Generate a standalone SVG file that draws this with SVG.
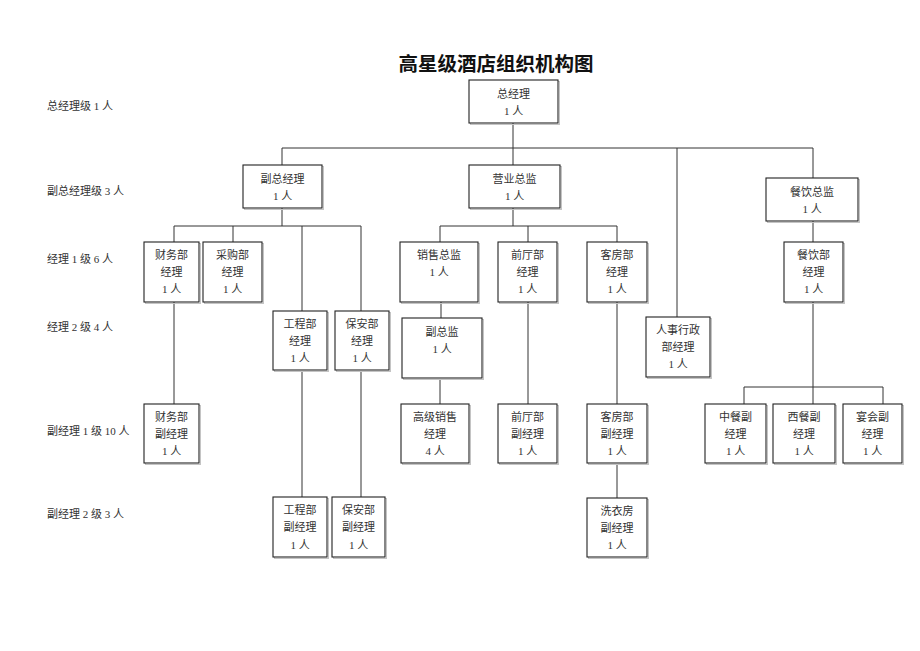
<svg xmlns="http://www.w3.org/2000/svg" width="920" height="651" viewBox="0 0 920 651">
<style>
  .bg { fill: #ffffff; }
  .title { font-family: "Noto Sans CJK SC", "Liberation Sans", sans-serif; font-size: 19.5px; font-weight: bold; fill: #111; text-anchor: middle; }
  .lvl { font-family: "Liberation Serif", "Noto Sans CJK SC", serif; font-size: 11px; fill: #333; }
  .node rect.box { fill: #ffffff; stroke: #222; stroke-width: 1.1; }
  .node rect.sh { fill: none; stroke: #c4c4c4; stroke-width: 1; }
  .node text { font-family: "Liberation Serif", "Noto Sans CJK SC", serif; font-size: 11px; fill: #333; text-anchor: middle; }
  .conn path { fill: none; stroke: #333; stroke-width: 1; }
</style>
<rect class="bg" x="0" y="0" width="920" height="651"/>
<text class="title" x="496" y="71">高星级酒店组织机构图</text>

<g id="levels">
  <text class="lvl" x="47" y="110">总经理级 1 人</text>
  <text class="lvl" x="47" y="195">副总经理级 3 人</text>
  <text class="lvl" x="47" y="263">经理 1 级 6 人</text>
  <text class="lvl" x="47" y="331">经理 2 级 4 人</text>
  <text class="lvl" x="47" y="435">副经理 1 级 10 人</text>
  <text class="lvl" x="47" y="518">副经理 2 级 3 人</text>
</g>

<g id="connectors" class="conn">
  <path d="M513 123 V165"/>
  <path d="M282 148 H813"/>
  <path d="M282 148 V165"/>
  <path d="M677 148 V317"/>
  <path d="M813 148 V178"/>
  <path d="M282 208 V226"/>
  <path d="M174 226 H361"/>
  <path d="M174 226 V242"/>
  <path d="M233 226 V242"/>
  <path d="M302 226 V311"/>
  <path d="M361 226 V311"/>
  <path d="M174 302 V404"/>
  <path d="M302 371 V497"/>
  <path d="M361 371 V497"/>
  <path d="M513 208 V226"/>
  <path d="M440 226 H617"/>
  <path d="M440 226 V242"/>
  <path d="M528 226 V242"/>
  <path d="M617 226 V242"/>
  <path d="M441 302 V318"/>
  <path d="M440 379 V404"/>
  <path d="M528 302 V404"/>
  <path d="M617 302 V404"/>
  <path d="M617 464 V498"/>
  <path d="M813 221 V242"/>
  <path d="M813 302 V387"/>
  <path d="M744 387 H883"/>
  <path d="M744 387 V404"/>
  <path d="M813 387 V404"/>
  <path d="M883 387 V404"/>
</g>

<g id="n-gm" class="node">
  <rect class="sh" x="470.5" y="81.5" width="89" height="43"/>
  <rect class="box" x="469" y="80" width="89" height="43"/>
  <text x="513.5" y="98">总经理</text><text x="513.5" y="115">1 人</text>
</g>
<g id="n-vgm" class="node">
  <rect class="sh" x="244.5" y="166.5" width="79" height="43"/>
  <rect class="box" x="243" y="165" width="79" height="43"/>
  <text x="282.5" y="183">副总经理</text><text x="282.5" y="200">1 人</text>
</g>
<g id="n-bizdir" class="node">
  <rect class="sh" x="470.5" y="166.5" width="91" height="43"/>
  <rect class="box" x="469" y="165" width="91" height="43"/>
  <text x="514.5" y="183">营业总监</text><text x="514.5" y="200">1 人</text>
</g>
<g id="n-fbdir" class="node">
  <rect class="sh" x="767.5" y="179.5" width="92" height="43"/>
  <rect class="box" x="766" y="178" width="92" height="43"/>
  <text x="812" y="196">餐饮总监</text><text x="812" y="213">1 人</text>
</g>

<g id="n-fin" class="node">
  <rect class="sh" x="145.5" y="243.5" width="55" height="60"/>
  <rect class="box" x="144" y="242" width="55" height="60"/>
  <text x="171.5" y="259">财务部</text><text x="171.5" y="276">经理</text><text x="171.5" y="293">1 人</text>
</g>
<g id="n-pur" class="node">
  <rect class="sh" x="204.5" y="243.5" width="59" height="60"/>
  <rect class="box" x="203" y="242" width="59" height="60"/>
  <text x="232.5" y="259">采购部</text><text x="232.5" y="276">经理</text><text x="232.5" y="293">1 人</text>
</g>
<g id="n-eng" class="node">
  <rect class="sh" x="274.5" y="312.5" width="54" height="59"/>
  <rect class="box" x="273" y="311" width="54" height="59"/>
  <text x="300" y="328">工程部</text><text x="300" y="345">经理</text><text x="300" y="362">1 人</text>
</g>
<g id="n-sec" class="node">
  <rect class="sh" x="336.5" y="312.5" width="54" height="59"/>
  <rect class="box" x="335" y="311" width="54" height="59"/>
  <text x="362" y="328">保安部</text><text x="362" y="345">经理</text><text x="362" y="362">1 人</text>
</g>
<g id="n-salesdir" class="node">
  <rect class="sh" x="401.5" y="243.5" width="78" height="60"/>
  <rect class="box" x="400" y="242" width="78" height="60"/>
  <text x="439" y="259">销售总监</text><text x="439" y="276">1 人</text>
</g>
<g id="n-front" class="node">
  <rect class="sh" x="499.5" y="243.5" width="59" height="60"/>
  <rect class="box" x="498" y="242" width="59" height="60"/>
  <text x="527.5" y="259">前厅部</text><text x="527.5" y="276">经理</text><text x="527.5" y="293">1 人</text>
</g>
<g id="n-room" class="node">
  <rect class="sh" x="588.5" y="243.5" width="60" height="60"/>
  <rect class="box" x="587" y="242" width="60" height="60"/>
  <text x="617" y="259">客房部</text><text x="617" y="276">经理</text><text x="617" y="293">1 人</text>
</g>
<g id="n-fb" class="node">
  <rect class="sh" x="785.5" y="243.5" width="59" height="60"/>
  <rect class="box" x="784" y="242" width="59" height="60"/>
  <text x="813.5" y="259">餐饮部</text><text x="813.5" y="276">经理</text><text x="813.5" y="293">1 人</text>
</g>
<g id="n-vdir" class="node">
  <rect class="sh" x="403.5" y="319.5" width="80" height="60"/>
  <rect class="box" x="402" y="318" width="80" height="60"/>
  <text x="442" y="336">副总监</text><text x="442" y="353">1 人</text>
</g>
<g id="n-hr" class="node">
  <rect class="sh" x="647.5" y="318.5" width="64" height="60"/>
  <rect class="box" x="646" y="317" width="64" height="60"/>
  <text x="678" y="334">人事行政</text><text x="678" y="351">部经理</text><text x="678" y="368">1 人</text>
</g>

<g id="n-finv" class="node">
  <rect class="sh" x="145.5" y="405.5" width="55" height="59"/>
  <rect class="box" x="144" y="404" width="55" height="59"/>
  <text x="171.5" y="421">财务部</text><text x="171.5" y="438">副经理</text><text x="171.5" y="455">1 人</text>
</g>
<g id="n-srsales" class="node">
  <rect class="sh" x="402.5" y="405.5" width="68" height="59"/>
  <rect class="box" x="401" y="404" width="68" height="59"/>
  <text x="435" y="421">高级销售</text><text x="435" y="438">经理</text><text x="435" y="455">4 人</text>
</g>
<g id="n-frontv" class="node">
  <rect class="sh" x="499.5" y="405.5" width="59" height="59"/>
  <rect class="box" x="498" y="404" width="59" height="59"/>
  <text x="527.5" y="421">前厅部</text><text x="527.5" y="438">副经理</text><text x="527.5" y="455">1 人</text>
</g>
<g id="n-roomv" class="node">
  <rect class="sh" x="588.5" y="405.5" width="60" height="59"/>
  <rect class="box" x="587" y="404" width="60" height="59"/>
  <text x="617" y="421">客房部</text><text x="617" y="438">副经理</text><text x="617" y="455">1 人</text>
</g>
<g id="n-chn" class="node">
  <rect class="sh" x="706.5" y="405.5" width="61" height="59"/>
  <rect class="box" x="705" y="404" width="61" height="59"/>
  <text x="735.5" y="421">中餐副</text><text x="735.5" y="438">经理</text><text x="735.5" y="455">1 人</text>
</g>
<g id="n-wst" class="node">
  <rect class="sh" x="774.5" y="405.5" width="62" height="59"/>
  <rect class="box" x="773" y="404" width="62" height="59"/>
  <text x="804" y="421">西餐副</text><text x="804" y="438">经理</text><text x="804" y="455">1 人</text>
</g>
<g id="n-bqt" class="node">
  <rect class="sh" x="844.5" y="405.5" width="59" height="59"/>
  <rect class="box" x="843" y="404" width="59" height="59"/>
  <text x="872.5" y="421">宴会副</text><text x="872.5" y="438">经理</text><text x="872.5" y="455">1 人</text>
</g>

<g id="n-engv" class="node">
  <rect class="sh" x="274.5" y="498.5" width="54" height="60"/>
  <rect class="box" x="273" y="497" width="54" height="60"/>
  <text x="300" y="514">工程部</text><text x="300" y="531">副经理</text><text x="300" y="549">1 人</text>
</g>
<g id="n-secv" class="node">
  <rect class="sh" x="333.5" y="498.5" width="53" height="60"/>
  <rect class="box" x="332" y="497" width="53" height="60"/>
  <text x="358.5" y="514">保安部</text><text x="358.5" y="531">副经理</text><text x="358.5" y="549">1 人</text>
</g>
<g id="n-laundry" class="node">
  <rect class="sh" x="588.5" y="499.5" width="60" height="59"/>
  <rect class="box" x="587" y="498" width="60" height="59"/>
  <text x="617" y="515">洗衣房</text><text x="617" y="532">副经理</text><text x="617" y="549">1 人</text>
</g>
</svg>
